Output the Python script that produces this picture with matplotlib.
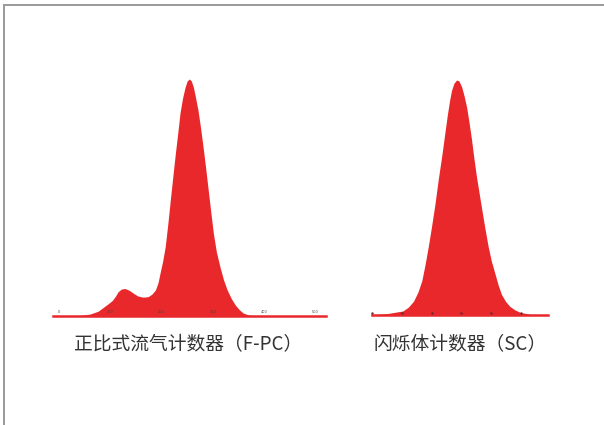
import matplotlib
matplotlib.use('Agg')
import matplotlib.pyplot as plt
from matplotlib.lines import Line2D

plt.rcParams['font.family'] = ['Noto Sans CJK SC', 'DejaVu Sans']

# F-PC spectrum (channel, relative counts)
fpc_channel = [-12, 40, 60, 76, 86, 96, 104, 110, 115, 121, 127, 131, 137, 145, 153, 162, 168,
               174, 181, 188, 193, 197, 202, 207, 212, 217, 222, 227, 232, 236, 241,
               246, 250, 254, 258, 262, 266, 271, 276, 281, 286, 291, 296, 301, 307,
               314, 321, 328, 336, 344, 352, 359, 370, 387, 521]
fpc_counts = [0, 0.2, 0.8, 2.0, 3.6, 5.2, 6.6, 8.4, 10.2, 11.3, 11.6, 11.4, 10.8, 9.6, 8.5, 8.0, 8.0,
              8.2, 9.2, 11.0, 14.0, 18.1, 23.0, 29.1, 38.5, 48.9, 59.0, 68.8, 78.0, 85.7, 92.0,
              96.6, 99.2, 100, 99.2, 96.6, 92.5, 86.9, 79.5, 71.3, 62.5, 53.2, 44.0, 35.0, 27.0,
              20.7, 15.2, 11.0, 7.4, 4.6, 2.6, 1.3, 0.4, 0, 0]
fpc_ticks = [0, 100, 200, 300, 400, 500]
fpc_title = '正比式流气计数器（F-PC）'

# SC spectrum (channel, relative counts)
sc_channel = [-1, 50, 103, 122, 139, 154, 167, 178, 189, 200, 211, 222, 234, 244, 253, 260, 267,
              275, 284, 292, 301, 309, 318, 326, 334, 342, 351, 360, 368, 379, 390, 401,
              413, 424, 435, 449, 463, 480, 497, 541, 592]
sc_counts = [0, 0.6, 1.7, 3.4, 5.9, 9.8, 14.7, 21.6, 29.4, 38.0, 47.1, 57.5, 67.7, 77.0, 85.3, 91.0, 95.6,
             98.6, 100, 99.6, 97.1, 93.4, 88.3, 81.9, 75.0, 67.0, 58.8, 51.8, 45.6, 37.2, 29.4, 23.0,
             17.7, 12.8, 8.8, 5.8, 3.7, 2.2, 1.2, 0, 0]
sc_ticks = [0, 100, 200, 300, 400, 500]
sc_title = '闪烁体计数器（SC）'

W, H = 604, 425
RED = '#E8282A'

fig = plt.figure(figsize=(W / 100, H / 100), dpi=100, facecolor='white')

def px_axes(x0, x1, y_base, y_top):
    return fig.add_axes([x0 / W, (H - y_base) / H, (x1 - x0) / W, (y_base - y_top) / H])

# left panel
ax1 = px_axes(53, 326, 316, 79)
ax1.fill_between(fpc_channel, fpc_counts, 0, color=RED, lw=0)
ax1.axhline(0, color=RED, lw=1.8, clip_on=False)
for t in fpc_ticks:
    ax1.text(t, 1.0, str(t), fontsize=2.5, color='#444444', ha='center', va='bottom',
             family='DejaVu Sans')
ax1.set_xlim(fpc_channel[0], fpc_channel[-1])
ax1.set_ylim(0, 100)
ax1.axis('off')

# right panel
ax2 = px_axes(372, 548, 315, 80)
ax2.fill_between(sc_channel, sc_counts, 0, color=RED, lw=0)
ax2.axhline(0, color=RED, lw=1.8, clip_on=False)
ax2.scatter(sc_ticks, [1.0] * len(sc_ticks), s=3, color='#6a2a30', zorder=3, clip_on=False,
            linewidths=0)
ax2.set_xlim(-1, sc_channel[-1])
ax2.set_ylim(0, 100)
ax2.axis('off')

fig.text(188 / W, 1 - 344 / H, fpc_title, fontsize=13.5, color='#333333', ha='center', va='center')
fig.text(460 / W, 1 - 344 / H, sc_title, fontsize=13.5, color='#333333', ha='center', va='center')

# outer frame (top and left edges)
fig.add_artist(Line2D([4 / W, 1], [1 - 5 / H, 1 - 5 / H], transform=fig.transFigure,
                      color='#9a9a9a', lw=1.4))
fig.add_artist(Line2D([4 / W, 4 / W], [0, 1 - 5 / H], transform=fig.transFigure,
                      color='#9a9a9a', lw=1.4))

fig.savefig('out.png', dpi=100, facecolor='white')
